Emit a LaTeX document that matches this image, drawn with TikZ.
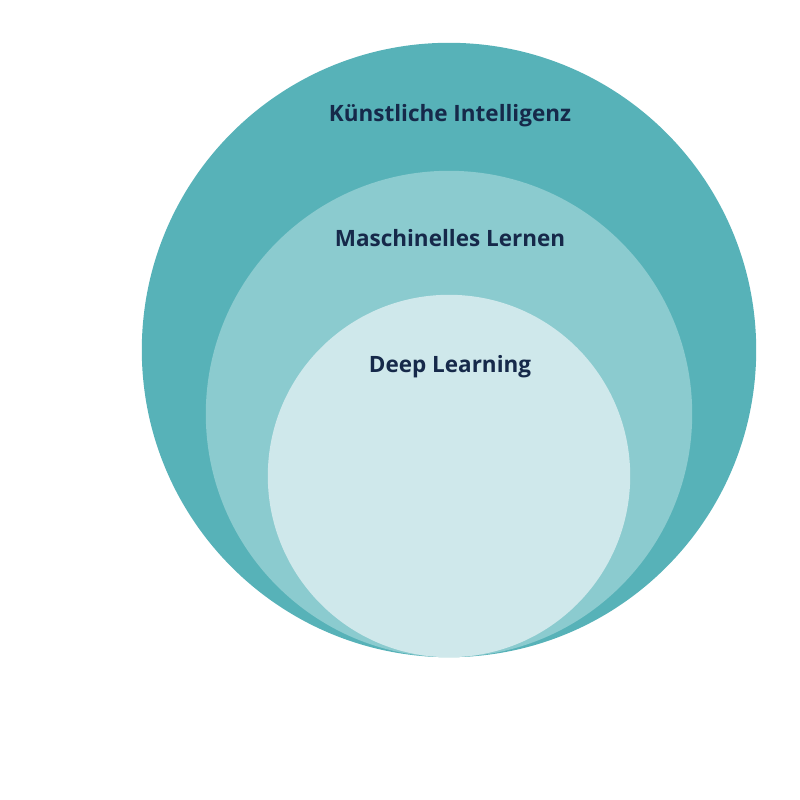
\documentclass[tikz,border=0pt]{standalone}
\usepackage{fontspec}
\setmainfont{Open Sans}
\usepackage{xcolor}
\usepackage{tikz}
\usetikzlibrary{calc}

\definecolor{kiteal}{HTML}{57B2B8}
\definecolor{mlteal}{HTML}{8BCBCF}
\definecolor{dlteal}{HTML}{CFE8EB}
\definecolor{navy}{HTML}{16294A}

\begin{document}
\begin{tikzpicture}
\useasboundingbox (0,0) rectangle (20,20);
\def\rKI{7.68};
\def\rML{6.08};
\def\rDL{4.53}; %all circles touch at the bottom%
\coordinate (B) at (11.225,3.57);
\coordinate (KI) at ($(B)+(0,\rKI)$);
\coordinate (ML) at ($(B)+(0,\rML)$);
\coordinate (DL) at ($(B)+(0,\rDL)$);

\fill[kiteal] (KI) circle (\rKI); %AI%
\fill[mlteal] (ML) circle (\rML); %machine learning%
\fill[dlteal] (DL) circle (\rDL); %deep learning%

% labels%
\node[text=navy,font=\bfseries\fontsize{16}{18}\selectfont] (kilabel) at (11.25,17.12) {Künstliche Intelligenz};
\node[text=navy,font=\bfseries\fontsize{16}{18}\selectfont] (mllabel) at (11.25,14.04) {Maschinelles Lernen};
\node[text=navy,font=\bfseries\fontsize{16}{18}\selectfont] (dllabel) at (11.25,10.84) {Deep Learning};

\end{tikzpicture}
\end{document}
